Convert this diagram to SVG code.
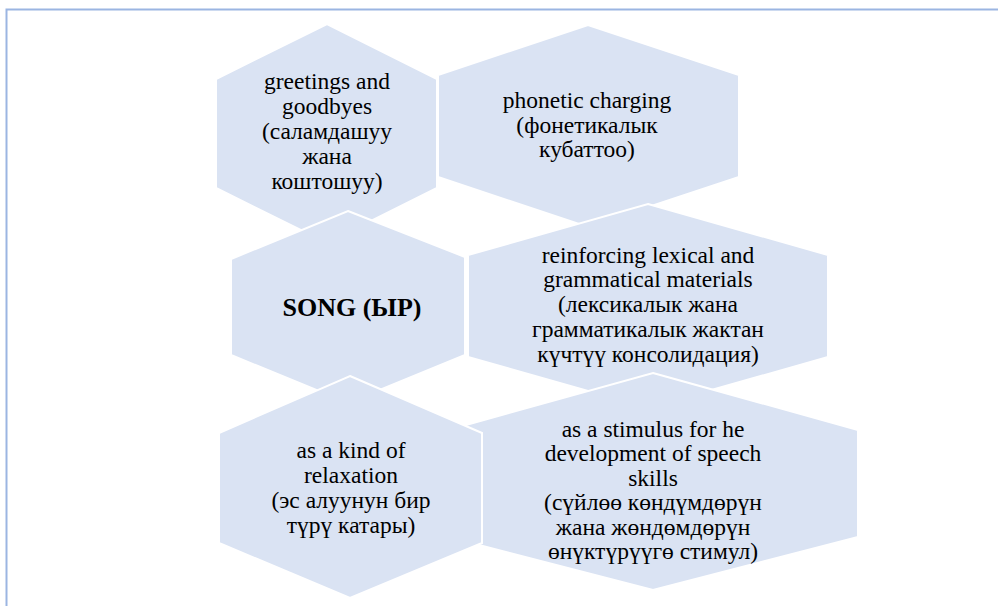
<svg xmlns="http://www.w3.org/2000/svg" width="998" height="606" viewBox="0 0 998 606">
<style>
.hex{fill:#dae3f3;stroke:#ffffff;stroke-width:2;stroke-linejoin:miter}
.t{font-size:23.5px;fill:#000;text-anchor:middle}
.b{font-size:26px;font-weight:bold;fill:#000;text-anchor:middle}
.frame{fill:none;stroke:#9bb5e2;stroke-width:2}
</style>
<rect width="998" height="606" fill="#ffffff"/>
<path class="frame" d="M6.5 606 V9.5 H998"/>
<g id="connectors"></g>
<g id="node-greetings">
<polygon class="hex" points="327,24 437,79 437,188 327,243 216,188 216,79"/>
<text class="t" font-family="Liberation Serif, serif"><tspan x="327" y="89">greetings and</tspan><tspan x="327" y="114">goodbyes</tspan><tspan x="327" y="139">(саламдашуу</tspan><tspan x="327" y="164">жана</tspan><tspan x="327" y="189">коштошуу)</tspan></text>
</g>
<g id="node-phonetic">
<polygon class="hex" points="588,25 739,75 739,177 588,227 438,177 438,75"/>
<text class="t" font-family="Liberation Serif, serif"><tspan x="587" y="108">phonetic charging</tspan><tspan x="587" y="133">(фонетикалык</tspan><tspan x="587" y="157">кубаттоо)</tspan></text>
</g>
<g id="node-song">
<polygon class="hex" points="348,211 465,257 465,355 348,403 231,355 231,259"/>
<text class="b" font-family="Liberation Serif, serif" x="352" y="316">SONG (ЫР)</text>
</g>
<g id="node-reinforcing">
<polygon class="hex" points="648,204 828,255 828,357 648,408 468,357 468,255"/>
<text class="t" font-family="Liberation Serif, serif"><tspan x="648" y="263">reinforcing lexical and</tspan><tspan x="648" y="287">grammatical materials</tspan><tspan x="648" y="312">(лексикалык жана</tspan><tspan x="648" y="337">грамматикалык жактан</tspan><tspan x="648" y="362">күчтүү консолидация)</tspan></text>
</g>
<g id="node-stimulus">
<polygon class="hex" points="653,373 858,430 858,537 653,590 448,537 448,430"/>
<text class="t" font-family="Liberation Serif, serif"><tspan x="653" y="437">as a stimulus for he</tspan><tspan x="653" y="461">development of speech</tspan><tspan x="653" y="486">skills</tspan><tspan x="653" y="510">(сүйлөө көндүмдөрүн</tspan><tspan x="653" y="535">жана жөндөмдөрүн</tspan><tspan x="653" y="559">өнүктүрүүгө стимул)</tspan></text>
</g>
<g id="node-relaxation">
<polygon class="hex" points="350,376 482,433 482,543 350,598 219,543 219,433"/>
<text class="t" font-family="Liberation Serif, serif"><tspan x="351" y="458">as a kind of</tspan><tspan x="351" y="483">relaxation</tspan><tspan x="351" y="508">(эс алуунун бир</tspan><tspan x="351" y="533">түрү катары)</tspan></text>
</g>
</svg>
